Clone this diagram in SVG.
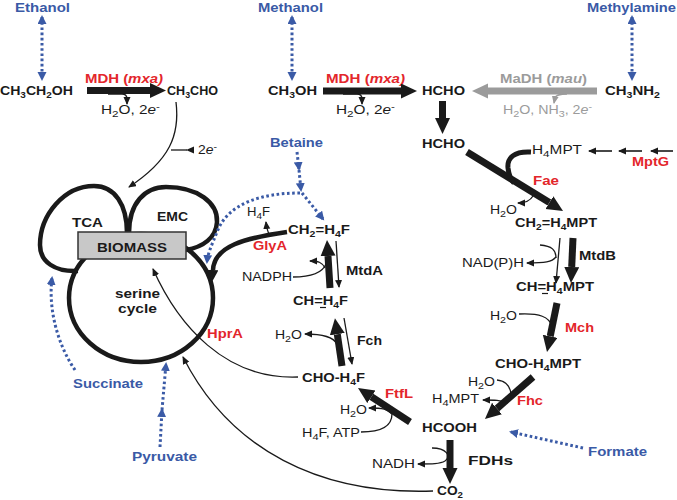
<svg xmlns="http://www.w3.org/2000/svg" width="677" height="500" viewBox="0 0 677 500">
<defs>
<style>
text{font-family:"Liberation Sans",Arial,Helvetica,sans-serif}
.b{font-weight:bold;font-size:13.5px;fill:#1a1a1a}
.n{font-size:12.5px;fill:#1a1a1a}
.bl{fill:#3a5aa6}
.rd{fill:#e3262b}
.gy{fill:#9b9b9b}
.s{font-size:9.5px}
.thick{fill:none;stroke:#1a1a1a;stroke-width:7;marker-end:url(#big)}
.thin{fill:none;stroke:#1a1a1a;stroke-width:1.3;marker-end:url(#sm)}
.line{fill:none;stroke:#1a1a1a;stroke-width:1.3}
.loop{fill:none;stroke:#1a1a1a;stroke-width:4.5}
.dot{fill:none;stroke:#3a5aa6;stroke-width:3;stroke-dasharray:2.6 2.6;marker-end:url(#bh)}
.dd{marker-start:url(#bh)}
</style>
<marker id="big" markerUnits="userSpaceOnUse" markerWidth="18" markerHeight="16" refX="0" refY="7.5" orient="auto"><path d="M0,0L16,7.5L0,15z" fill="#1a1a1a"/></marker>
<marker id="bigg" markerUnits="userSpaceOnUse" markerWidth="18" markerHeight="16" refX="0" refY="7.5" orient="auto"><path d="M0,0L16,7.5L0,15z" fill="#9b9b9b"/></marker>
<marker id="med" markerUnits="userSpaceOnUse" markerWidth="12" markerHeight="12" refX="0" refY="5.5" orient="auto"><path d="M0,0L11,5.5L0,11z" fill="#1a1a1a"/></marker>
<marker id="sm" markerUnits="userSpaceOnUse" markerWidth="10" markerHeight="8" refX="7" refY="3.5" orient="auto"><path d="M0,0L8,3.5L0,7z" fill="#1a1a1a"/></marker>
<marker id="smg" markerUnits="userSpaceOnUse" markerWidth="10" markerHeight="8" refX="7" refY="3.5" orient="auto"><path d="M0,0L8,3.5L0,7z" fill="#9b9b9b"/></marker>
<marker id="bh" markerUnits="userSpaceOnUse" markerWidth="10" markerHeight="10" refX="7" refY="4.5" orient="auto-start-reverse"><path d="M0,0L9,4.5L0,9z" fill="#3a5aa6"/></marker>
</defs>

<!-- Serine cycle / biomass -->
<g id="serine-cycle">
<ellipse class="loop" cx="141" cy="298" rx="72" ry="64"/>
<path class="loop" d="M127,233C127,205 115,186 94,186C64,186 40,215 40,245C40,262 55,272 78,271"/>
<path class="loop" d="M129,233C129,203 145,187 166,187C198,187 218,203 217,222C216,238 203,247 186,250"/>
<rect x="78" y="232" width="108" height="27" fill="#c8c8c8" stroke="#333" stroke-width="1.5"/>
<text class="b" x="97" y="252" textLength="70" lengthAdjust="spacingAndGlyphs">BIOMASS</text>
<text class="b" x="72" y="227" textLength="31" lengthAdjust="spacingAndGlyphs">TCA</text>
<text class="b" x="157" y="221" textLength="31" lengthAdjust="spacingAndGlyphs">EMC</text>
<text class="b" x="115" y="298" textLength="45" lengthAdjust="spacingAndGlyphs">serine</text>
<text class="b" x="118" y="313" textLength="39" lengthAdjust="spacingAndGlyphs">cycle</text>
</g>

<!-- Substrates (blue) -->
<g id="ethanol"><text class="b bl" x="15" y="11.5" textLength="55" lengthAdjust="spacingAndGlyphs">Ethanol</text></g>
<g id="methanol"><text class="b bl" x="258" y="11.5" textLength="65" lengthAdjust="spacingAndGlyphs">Methanol</text></g>
<g id="methylamine"><text class="b bl" x="587" y="11.5" textLength="89" lengthAdjust="spacingAndGlyphs">Methylamine</text></g>
<g id="betaine"><text class="b bl" x="270" y="147" textLength="53" lengthAdjust="spacingAndGlyphs">Betaine</text></g>
<g id="succinate"><text class="b bl" x="73" y="388" textLength="70" lengthAdjust="spacingAndGlyphs">Succinate</text></g>
<g id="pyruvate"><text class="b bl" x="132" y="461" textLength="65" lengthAdjust="spacingAndGlyphs">Pyruvate</text></g>
<g id="formate"><text class="b bl" x="588" y="456" textLength="59" lengthAdjust="spacingAndGlyphs">Formate</text></g>

<!-- Compounds -->
<g id="ethanol-c"><text class="b" x="0" y="95" textLength="73" lengthAdjust="spacingAndGlyphs">CH<tspan class="s" dy="3">3</tspan><tspan dy="-3">CH</tspan><tspan class="s" dy="3">2</tspan><tspan dy="-3">OH</tspan></text></g>
<g id="acetaldehyde"><text class="b" x="167" y="95" textLength="51" lengthAdjust="spacingAndGlyphs">CH<tspan class="s" dy="3">3</tspan><tspan dy="-3">CHO</tspan></text></g>
<g id="methanol-c"><text class="b" x="268" y="95" textLength="49" lengthAdjust="spacingAndGlyphs">CH<tspan class="s" dy="3">3</tspan><tspan dy="-3">OH</tspan></text></g>
<g id="hcho1"><text class="b" x="422" y="95" textLength="43" lengthAdjust="spacingAndGlyphs">HCHO</text></g>
<g id="methylamine-c"><text class="b" x="605" y="95" textLength="55" lengthAdjust="spacingAndGlyphs">CH<tspan class="s" dy="3">3</tspan><tspan dy="-3">NH</tspan><tspan class="s" dy="3">2</tspan></text></g>
<g id="hcho2"><text class="b" x="422" y="148" textLength="43" lengthAdjust="spacingAndGlyphs">HCHO</text></g>
<g id="ch2-h4mpt"><text class="b" x="515" y="227" textLength="82" lengthAdjust="spacingAndGlyphs">CH<tspan class="s" dy="3">2</tspan><tspan dy="-3">=H</tspan><tspan class="s" dy="3">4</tspan><tspan dy="-3">MPT</tspan></text></g>
<g id="ch-h4mpt"><text class="b" x="516" y="291" textLength="78" lengthAdjust="spacingAndGlyphs">CH=H<tspan class="s" dy="3">4</tspan><tspan dy="-3">MPT</tspan></text><line x1="542" y1="293.5" x2="548" y2="293.5" stroke="#1a1a1a" stroke-width="1.2"/></g>
<g id="cho-h4mpt"><text class="b" x="495" y="368" textLength="86" lengthAdjust="spacingAndGlyphs">CHO-H<tspan class="s" dy="3">4</tspan><tspan dy="-3">MPT</tspan></text></g>
<g id="hcooh"><text class="b" x="422" y="432" textLength="55" lengthAdjust="spacingAndGlyphs">HCOOH</text></g>
<g id="co2"><text class="b" x="437" y="495" textLength="26" lengthAdjust="spacingAndGlyphs">CO<tspan class="s" dy="3">2</tspan></text></g>
<g id="ch2-h4f"><text class="b" x="288" y="234" textLength="62" lengthAdjust="spacingAndGlyphs">CH<tspan class="s" dy="3">2</tspan><tspan dy="-3">=H</tspan><tspan class="s" dy="3">4</tspan><tspan dy="-3">F</tspan></text></g>
<g id="ch-h4f"><text class="b" x="293" y="305" textLength="55" lengthAdjust="spacingAndGlyphs">CH=H<tspan class="s" dy="3">4</tspan><tspan dy="-3">F</tspan></text><line x1="320" y1="307.5" x2="326" y2="307.5" stroke="#1a1a1a" stroke-width="1.2"/></g>
<g id="cho-h4f"><text class="b" x="302" y="382" textLength="63" lengthAdjust="spacingAndGlyphs">CHO-H<tspan class="s" dy="3">4</tspan><tspan dy="-3">F</tspan></text></g>

<!-- Enzyme labels -->
<g id="labels">
<text class="b rd" x="85" y="83" textLength="78" lengthAdjust="spacingAndGlyphs">MDH (<tspan font-style="italic">mxa)</tspan></text>
<text class="b rd" x="326" y="83" textLength="79" lengthAdjust="spacingAndGlyphs">MDH (<tspan font-style="italic">mxa)</tspan></text>
<text class="b gy" x="500" y="83" textLength="87" lengthAdjust="spacingAndGlyphs">MaDH (<tspan font-style="italic">mau</tspan>)</text>
<text class="b rd" x="533" y="185" textLength="26" lengthAdjust="spacingAndGlyphs">Fae</text>
<text class="b rd" x="632" y="166" textLength="37" lengthAdjust="spacingAndGlyphs">MptG</text>
<text class="b rd" x="565" y="332" textLength="29" lengthAdjust="spacingAndGlyphs">Mch</text>
<text class="b rd" x="517" y="405" textLength="26" lengthAdjust="spacingAndGlyphs">Fhc</text>
<text class="b rd" x="253" y="250" textLength="34" lengthAdjust="spacingAndGlyphs">GlyA</text>
<text class="b rd" x="207" y="338" textLength="36" lengthAdjust="spacingAndGlyphs">HprA</text>
<text class="b rd" x="385" y="398" textLength="28" lengthAdjust="spacingAndGlyphs">FtfL</text>
<text class="b" x="346" y="275" textLength="37" lengthAdjust="spacingAndGlyphs">MtdA</text>
<text class="b" x="357" y="345" textLength="25" lengthAdjust="spacingAndGlyphs">Fch</text>
<text class="b" x="579" y="260" textLength="37" lengthAdjust="spacingAndGlyphs">MtdB</text>
<text class="b" x="468" y="465" textLength="45" lengthAdjust="spacingAndGlyphs">FDHs</text>
</g>

<!-- Cofactor texts -->
<g id="cofactors">
<text class="n" x="101" y="114" textLength="59" lengthAdjust="spacingAndGlyphs">H<tspan class="s" dy="3">2</tspan><tspan dy="-3">O, 2</tspan><tspan font-style="italic">e</tspan><tspan class="s" dy="-4">-</tspan></text>
<text class="n" x="336" y="114" textLength="59" lengthAdjust="spacingAndGlyphs">H<tspan class="s" dy="3">2</tspan><tspan dy="-3">O, 2</tspan><tspan font-style="italic">e</tspan><tspan class="s" dy="-4">-</tspan></text>
<text class="n gy" x="503" y="114" textLength="89" lengthAdjust="spacingAndGlyphs">H<tspan class="s" dy="3">2</tspan><tspan dy="-3">O, NH</tspan><tspan class="s" dy="3">3</tspan><tspan dy="-3">, 2</tspan><tspan font-style="italic">e</tspan><tspan class="s" dy="-4">-</tspan></text>
<text class="n" x="198" y="154" textLength="19" lengthAdjust="spacingAndGlyphs">2<tspan font-style="italic">e</tspan><tspan class="s" dy="-4">-</tspan></text>
<text class="n" x="532" y="154" textLength="50" lengthAdjust="spacingAndGlyphs">H<tspan class="s" dy="3">4</tspan><tspan dy="-3">MPT</tspan></text>
<text class="n" x="490" y="214" textLength="27" lengthAdjust="spacingAndGlyphs">H<tspan class="s" dy="3">2</tspan><tspan dy="-3">O</tspan></text>
<text class="n" x="462" y="267" textLength="62" lengthAdjust="spacingAndGlyphs">NAD(P)H</text>
<text class="n" x="490" y="320" textLength="27" lengthAdjust="spacingAndGlyphs">H<tspan class="s" dy="3">2</tspan><tspan dy="-3">O</tspan></text>
<text class="n" x="468" y="386" textLength="27" lengthAdjust="spacingAndGlyphs">H<tspan class="s" dy="3">2</tspan><tspan dy="-3">O</tspan></text>
<text class="n" x="432" y="403" textLength="47" lengthAdjust="spacingAndGlyphs">H<tspan class="s" dy="3">4</tspan><tspan dy="-3">MPT</tspan></text>
<text class="n" x="372" y="468" textLength="43" lengthAdjust="spacingAndGlyphs">NADH</text>
<text class="n" x="247" y="216" textLength="23" lengthAdjust="spacingAndGlyphs">H<tspan class="s" dy="3">4</tspan><tspan dy="-3">F</tspan></text>
<text class="n" x="242" y="281" textLength="50" lengthAdjust="spacingAndGlyphs">NADPH</text>
<text class="n" x="275" y="339" textLength="27" lengthAdjust="spacingAndGlyphs">H<tspan class="s" dy="3">2</tspan><tspan dy="-3">O</tspan></text>
<text class="n" x="340" y="414" textLength="27" lengthAdjust="spacingAndGlyphs">H<tspan class="s" dy="3">2</tspan><tspan dy="-3">O</tspan></text>
<text class="n" x="302" y="437" textLength="58" lengthAdjust="spacingAndGlyphs">H<tspan class="s" dy="3">4</tspan><tspan dy="-3">F, ATP</tspan></text>
</g>

<!-- Connectors -->
<g id="connectors">
<!-- blue dotted -->
<path class="dot dd" d="M42,17L42,79"/>
<path class="dot dd" d="M292,17L292,79"/>
<path class="dot dd" d="M632,17L632,79"/>
<path class="dot" d="M297,152L299,169"/>
<path class="dot" d="M299,170L301,190"/>
<path class="dot" d="M302,193L323,219"/>
<path class="dot" d="M300,193C262,193 228,203 217,232C212,245 208,252 207,262"/>
<path class="dot" d="M75,370C58,345 48,310 52,278"/>
<path class="dot" d="M160,447L162,410"/>
<path class="dot" d="M162,410L166,364"/>
<path class="dot" d="M583,448L511,432"/>

<!-- thick arrows -->
<path class="thick" d="M87,90.5L150,90.5"/>
<path class="thick" d="M323,91L401,91"/>
<path class="thick" d="M597,91L488,91" style="stroke:#9b9b9b;marker-end:url(#bigg)"/>
<path class="thick" d="M442.5,101L442.5,118"/>
<path class="thick" d="M467,152L549.4,202.6"/>
<path class="thick" d="M573,238L571.7,267"/>
<path class="thick" d="M557,303L550.2,336.3"/>
<path class="thick" d="M533,377L497,408.5"/>
<path class="thick" d="M450,440L450,468"/>
<path class="thick" d="M330,288L328,256"/>
<path class="thick" d="M342,366L337.3,334.2"/>
<path class="thick" d="M410,422L371.4,396.8"/>
<path d="M287,232C245,238 214,246 213,270" fill="none" stroke="#1a1a1a" stroke-width="4.5" marker-end="url(#med)"/>
<path d="M531,152C514,151 507,158 508,168C509,176 511,180 514,183" fill="none" stroke="#1a1a1a" stroke-width="5"/>

<!-- MptG small arrows -->
<path class="thin" d="M612,151L589,151" style="stroke-width:1.6"/>
<path class="thin" d="M642,151L619,151" style="stroke-width:1.6"/>
<path class="thin" d="M673,151L651,151" style="stroke-width:1.6"/>

<!-- thin arrows and branches -->
<path class="thin" d="M108,94L122,94Q127,94 127,99L127,104"/>
<path class="thin" d="M343,94L357,94Q362,94 362,99L362,104"/>
<path class="thin" d="M567,94Q556,94 555,98L554,103" style="stroke:#9b9b9b;marker-end:url(#smg)"/>
<path class="thin" d="M176,102C180,135 170,160 129,187"/>
<path class="line" d="M171,150L187,150"/>
<path d="M186,150L194,146.5L194,153.5z" fill="#1a1a1a"/>
<path class="thin" d="M270,236Q267,231 266,222"/>
<path class="line" d="M293,277C310,277 322,274 326,264"/>
<path class="thin" d="M325,268C322,262 318,261 310,261"/>
<path class="thin" d="M336,241L339,287"/>
<path class="thin" d="M337,344C334,338 326,334 305,334"/>
<path class="thin" d="M344,318L352,364"/>
<path class="thin" d="M298,377C225,380 178,325 153,269"/>
<path class="thin" d="M392,414C388,409 383,408 369,408"/>
<path class="line" d="M361,432C378,432 392,428 392,414"/>
<path class="thin" d="M533,196C530,201 526,203 518,203"/>
<path class="thin" d="M560,238L556,283"/>
<path class="line" d="M540,245C552,246 556,250 556,258"/>
<path class="thin" d="M556,257C552,262 545,263 527,263"/>
<path class="line" d="M519,314C540,313 549,317 552,326"/>
<path class="line" d="M497,380C507,381 511,388 511,396"/>
<path class="thin" d="M508,403C500,400 495,400 483,400"/>
<path class="line" d="M432,448C446,448 452,456 445,461"/>
<path class="thin" d="M445,461C440,464 432,464 418,464"/>
<path class="thin" d="M433,491C320,495 230,450 183,357"/>
</g>
</svg>
